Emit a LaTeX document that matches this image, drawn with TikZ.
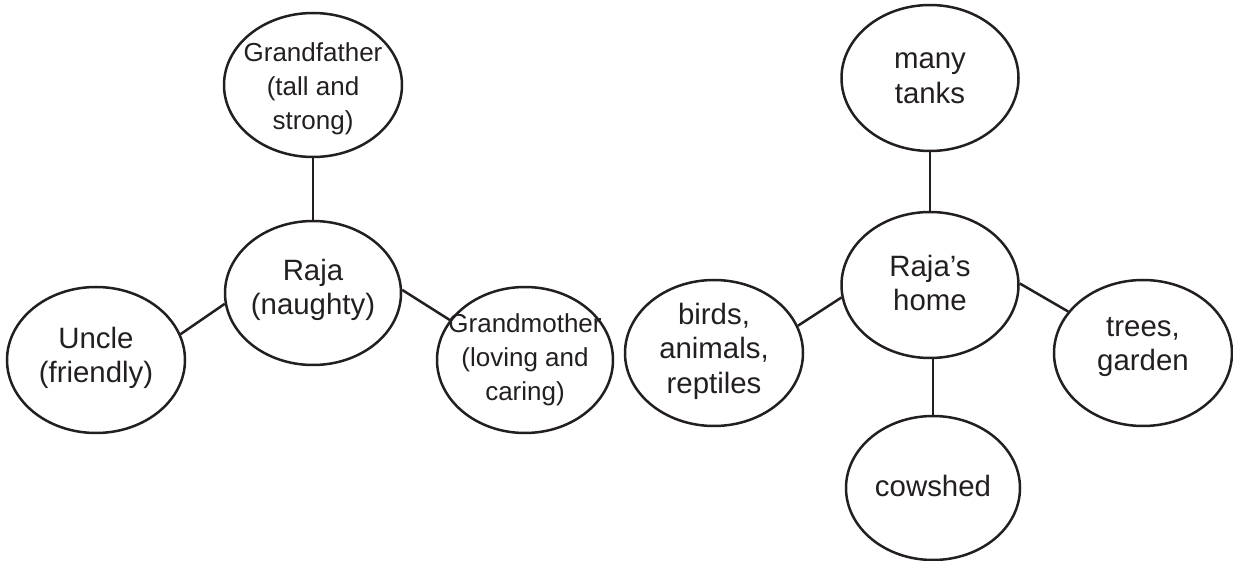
\documentclass[tikz,border=0pt]{standalone}
\usepackage{fontspec}
\setmainfont{Liberation Sans}
\usetikzlibrary{shapes.geometric}
\definecolor{ink}{HTML}{231F20}
\begin{document}
\begin{tikzpicture}[x=0.5pt,y=-0.5pt,
  bubble/.style 2 args={ellipse, draw=ink, line width=1.25pt, inner sep=0pt,
    minimum width=#1*0.5pt, minimum height=#2*0.5pt},
  txt/.style={align=center, text=ink, inner sep=0pt, font=\fontsize{14.7}{17.3}\selectfont},
  smalltxt/.style={align=center, text=ink, inner sep=0pt, font=\fontsize{13}{17}\selectfont},
  link/.style={draw=ink, line width=1.25pt}]
\useasboundingbox (0,0) rectangle (1233,561);

% left map
\node[bubble={178}{144}] (gf) at (313,85) {};
\node[smalltxt, yshift=-2pt] (gft) at (gf) {Grandfather\\(tall and\\strong)};
\node[bubble={176}{144}] (raja) at (313,293) {};
\node[txt, yshift=1.5pt] (rajat) at (raja) {Raja\\(naughty)};
\node[bubble={178}{146}] (uncle) at (96,360) {};
\node[txt, yshift=1pt] (unclet) at (uncle) {Uncle\\(friendly)};
\node[bubble={176}{146}] (gm) at (525,360) {};
\node[smalltxt] (gmt) at (gm) {Grandmother\\(loving and\\caring)};

% right map
\node[bubble={177}{146}] (tanks) at (930,78) {};
\node[txt] (tankst) at (tanks) {many\\tanks};
\node[bubble={177}{146}] (home) at (930,285) {};
\node[txt, yshift=1pt] (homet) at (home) {Raja’s\\home};
\node[bubble={178}{146}] (birds) at (714,353) {};
\node[txt, yshift=1pt] (birdst) at (birds) {birds,\\animals,\\reptiles};
\node[bubble={178}{146}] (trees) at (1143,353) {};
\node[txt, yshift=3pt] (treest) at (trees) {trees,\\garden};
\node[bubble={174}{144}] (cow) at (933,488) {};
\node[txt, yshift=1pt] (cowt) at (cow) {cowshed};

% connectors
\draw[link] (gf.south) -- (raja.north);
\draw[link] (uncle.17.6) -- (raja.187.8);
\draw[link] (raja.2) -- (gm.152);
\draw[link] (tanks.south) -- (home.north);
\draw[link] (birds.18) -- (home.188);
\draw[link] (home.1) -- (trees.151);
\draw[link] (cow.north |- home.south) -- (cow.north);
\end{tikzpicture}
\end{document}
